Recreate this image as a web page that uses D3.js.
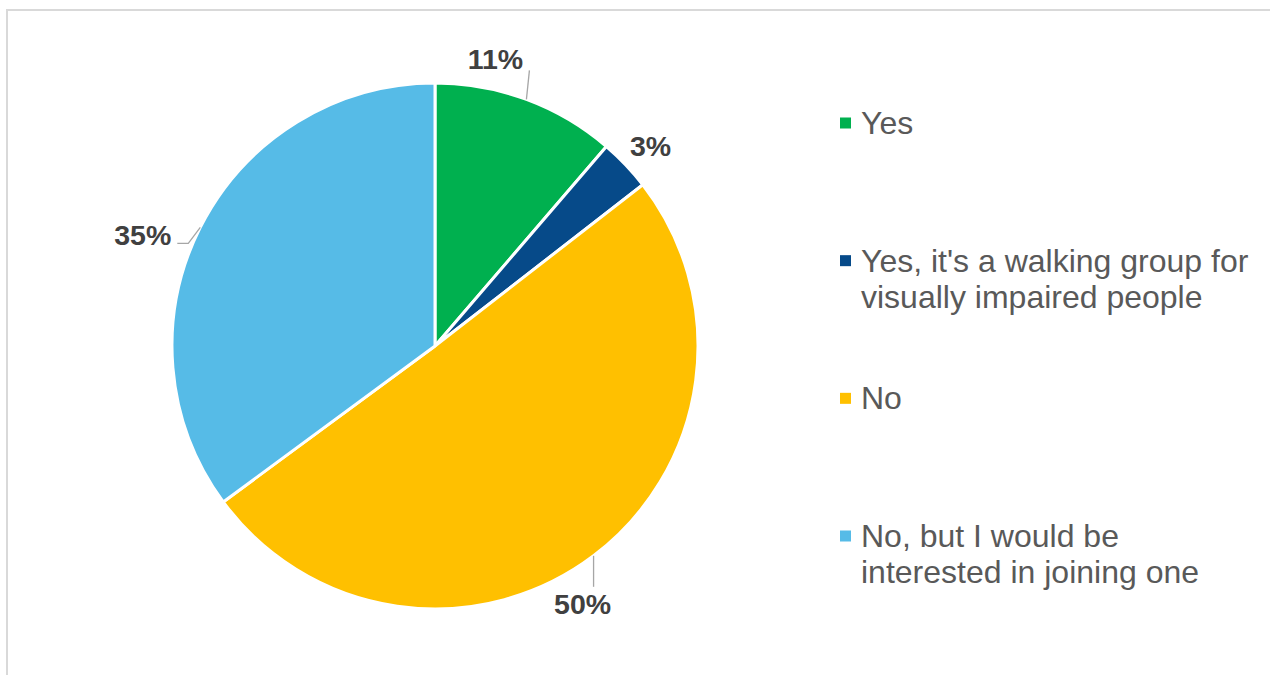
<!DOCTYPE html>
<html>
<head>
<meta charset="utf-8">
<script src="https://cdn.jsdelivr.net/npm/d3@7/dist/d3.min.js"></script>
<style>
  html, body { margin: 0; padding: 0; background: #fff; }
  svg { display: block; font-family: "Liberation Sans", Arial, sans-serif; }
</style>
</head>
<body>
<svg id="chart" width="1270" height="675"></svg>
<script>
// Survey answers: "Are you part of a walking group?"
const categories = [
  "Yes",
  "Yes, it's a walking group for visually impaired people",
  "No",
  "No, but I would be interested in joining one"
];
const legendLines = [
  ["Yes"],
  ["Yes, it's a walking group for", "visually impaired people"],
  ["No"],
  ["No, but I would be", "interested in joining one"]
];
const shares = [11.3, 3.2, 50.4, 35.1]; // percent of respondents
const colors = ["#00b04f", "#064a89", "#ffc000", "#56bbe7"];

// Label placement relative to the slice's outer mid-point
const labelLayout = [
  { text: [-31, -30], anchor: "middle", leader: [[3, -29]] },
  { text: [25, -9], anchor: "middle", leader: null },
  { text: [-11, 58], anchor: "middle", leader: [[0, 31]] },
  { text: [-29, 18], anchor: "end", leader: [[-12, 16], [-23, 16]] }
];

const svg = d3.select("#chart");
const width = 1270, height = 675;

// light chart-area frame
svg.append("rect")
  .attr("x", 7).attr("y", 10)
  .attr("width", width + 20).attr("height", height + 20)
  .attr("fill", "#fff")
  .attr("stroke", "#d9d9d9").attr("stroke-width", 2);

const cx = 435, cy = 346, radius = 263;

const pie = d3.pie().value(d => d).sort(null);
const arcs = pie(shares);
const arc = d3.arc().innerRadius(0).outerRadius(radius);

const g = svg.append("g").attr("transform", `translate(${cx},${cy})`);

g.selectAll("path.slice")
  .data(arcs)
  .join("path")
  .attr("class", "slice")
  .attr("d", arc)
  .attr("fill", (d, i) => colors[i])
  .attr("stroke", "#fff")
  .attr("stroke-width", 3)
  .attr("stroke-linejoin", "round");

const fmt = d3.format(".0f");
arcs.forEach((d, i) => {
  const mid = (d.startAngle + d.endAngle) / 2;
  const px = radius * Math.sin(mid);
  const py = -radius * Math.cos(mid);
  const lay = labelLayout[i];
  if (lay.leader) {
    const pts = [[px, py]].concat(lay.leader.map(o => [px + o[0], py + o[1]]));
    g.append("path")
      .attr("d", d3.line()(pts))
      .attr("fill", "none")
      .attr("stroke", "#a6a6a6")
      .attr("stroke-width", 1.3);
  }
  g.append("text")
    .attr("x", px + lay.text[0])
    .attr("y", py + lay.text[1])
    .attr("text-anchor", lay.anchor)
    .attr("font-size", 28.5)
    .attr("font-weight", "bold")
    .attr("fill", "#404040")
    .text(fmt(d.data) + "%");
});

// legend
const legend = svg.append("g").attr("transform", "translate(840,0)");
const legendY = d3.scalePoint().domain(d3.range(categories.length)).range([123, 536]);
categories.forEach((c, i) => {
  const y = legendY(i);
  legend.append("rect")
    .attr("x", 0).attr("y", y - 5.5)
    .attr("width", 11).attr("height", 11)
    .attr("fill", colors[i]);
  const t = legend.append("text")
    .attr("x", 21).attr("y", y + 11)
    .attr("font-size", 32)
    .attr("fill", "#595959");
  legendLines[i].forEach((line, j) => {
    t.append("tspan").attr("x", 21).attr("dy", j === 0 ? 0 : 36).text(line);
  });
});
</script>
</body>
</html>
